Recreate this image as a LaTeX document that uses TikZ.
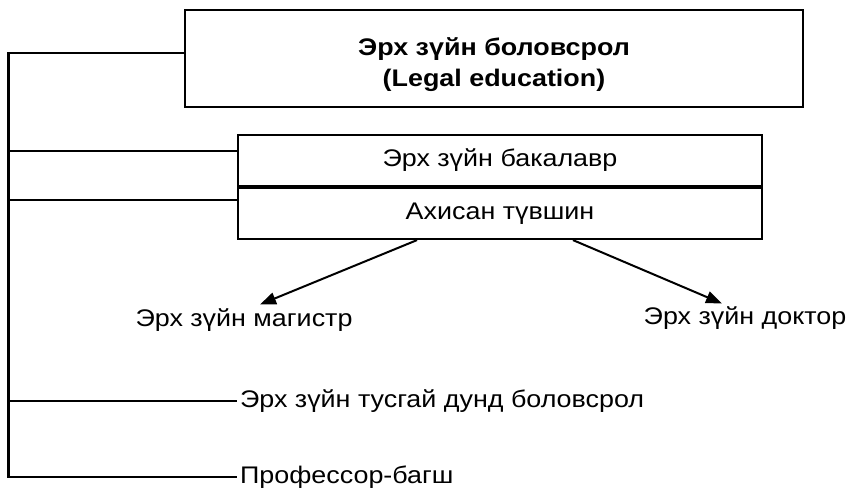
\documentclass[tikz,border=0pt]{standalone}
\usepackage{fontspec}
\setmainfont{Liberation Sans}[FakeStretch=1.12]
\usepackage{tikz}
\usetikzlibrary{positioning,calc,arrows.meta}

\begin{document}
\begin{tikzpicture}[x=1pt,y=-1pt,
    line width=2.2pt,
    box/.style={draw, rectangle, inner sep=0pt, font=\fontsize{24}{31}\selectfont},
    lbl/.style={inner sep=2pt, font=\fontsize{24}{31}\selectfont},
    arr/.style={-{Triangle[length=16pt,width=12pt]}, line width=2pt}]
    \useasboundingbox (0,0) rectangle (848,490);
    % boxes
    \node[box, minimum width=618pt, minimum height=97pt, align=center, font=\fontsize{24}{31}\selectfont\bfseries] (title) at (494,58.5) {\rule{0pt}{31pt}Эрх зүйн боловсрол\\(Legal education)};
    \node[box, minimum width=524pt, minimum height=51pt] (bach) at (500,160.5) {Эрх зүйн бакалавр};
    \node[box, minimum width=524pt, minimum height=51pt] (adv) at (500,213.5) {Ахисан түвшин};
    % labels
    \node[lbl] (mag) at (244,320) {Эрх зүйн магистр};
    \node[lbl] (doc) at (745,318) {Эрх зүйн доктор};
    \node[lbl, anchor=west] (spec) at (237,401) {Эрх зүйн тусгай дунд боловсрол};
    \node[lbl, anchor=west] (prof) at (237,477) {Профессор-багш};
    % spine and branches
    \coordinate (spinetop) at (8.5,53);
    \coordinate (spinebot) at (8.5,477);
    \coordinate (bachin) at ([yshift=9.5pt]bach.west);
    \coordinate (advin) at ([yshift=13.5pt]adv.west);
    \draw ([yshift=5.5pt]title.west) -- (spinetop) -- (spinebot) -- (prof.west);
    \draw (spinetop |- spec.west) -- (spec.west);
    \draw (spinetop |- bachin) -- (bachin);
    \draw (spinetop |- advin) -- (advin);
    % arrows
    \draw[arr] ([xshift=-83pt]adv.south) -- ([xshift=16pt,yshift=1pt]mag.north);
    \draw[arr] ([xshift=73pt]adv.south) -- ([xshift=-23pt,yshift=0pt]doc.north);
\end{tikzpicture}
\end{document}
